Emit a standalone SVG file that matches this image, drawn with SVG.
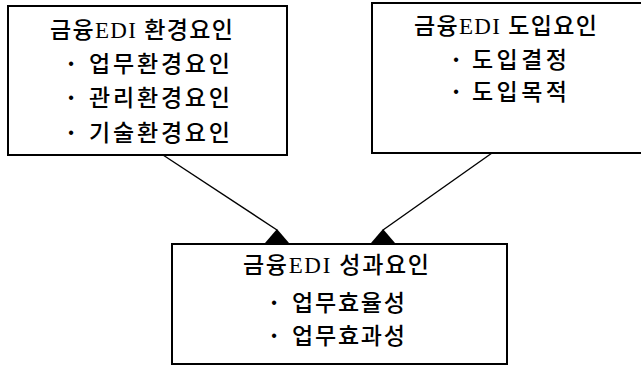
<svg xmlns="http://www.w3.org/2000/svg" width="641" height="366" viewBox="0 0 641 366">
<style>
.box{fill:#fff;stroke:#000;stroke-width:2}
.t{font-family:"Liberation Serif","Noto Sans CJK KR",serif;font-size:23px;fill:#000;font-weight:500}
.b{font-family:"Liberation Sans",sans-serif;font-size:16px;fill:#000;text-anchor:middle}
.c{stroke:#000;stroke-width:1.4;fill:none;marker-end:url(#ah)}
</style>
<defs>
<marker id="ah" markerUnits="userSpaceOnUse" markerWidth="30" markerHeight="20" refX="15" refY="1" orient="0" viewBox="0 0 30 20" overflow="visible">
<path d="M15,0 L27,14 L3,14 Z" fill="#000"/>
</marker>
</defs>
<rect width="641" height="366" fill="#fff"/>
<g id="env">
<rect class="box" x="8" y="6" width="279" height="149"/>
<text class="t" x="50" y="38" textLength="183" lengthAdjust="spacing">금융EDI 환경요인</text>
<text class="b" x="71" y="69">•</text>
<text class="t" x="89" y="72" textLength="141" lengthAdjust="spacing">업무환경요인</text>
<text class="b" x="71" y="103">•</text>
<text class="t" x="89" y="106" textLength="141" lengthAdjust="spacing">관리환경요인</text>
<text class="b" x="71" y="138">•</text>
<text class="t" x="89" y="141" textLength="141" lengthAdjust="spacing">기술환경요인</text>
</g>
<g id="adopt">
<rect class="box" x="372" y="3" width="272" height="150"/>
<text class="t" x="414" y="34" textLength="183" lengthAdjust="spacing">금융EDI 도입요인</text>
<text class="b" x="456" y="65">•</text>
<text class="t" x="472" y="68" textLength="95" lengthAdjust="spacing">도입결정</text>
<text class="b" x="456" y="97">•</text>
<text class="t" x="472" y="100" textLength="95" lengthAdjust="spacing">도입목적</text>
</g>
<g id="perf">
<rect class="box" x="172" y="244" width="335" height="120"/>
<text class="t" x="243" y="273" textLength="186" lengthAdjust="spacing">금융EDI 성과요인</text>
<text class="b" x="274" y="308">•</text>
<text class="t" x="292" y="311" textLength="113" lengthAdjust="spacing">업무효율성</text>
<text class="b" x="274" y="341">•</text>
<text class="t" x="292" y="344" textLength="113" lengthAdjust="spacing">업무효과성</text>
</g>
<g id="connectors">
<line class="c" x1="163" y1="155" x2="277" y2="230"/>
<line class="c" x1="492" y1="153" x2="383" y2="230"/>
</g>
</svg>
